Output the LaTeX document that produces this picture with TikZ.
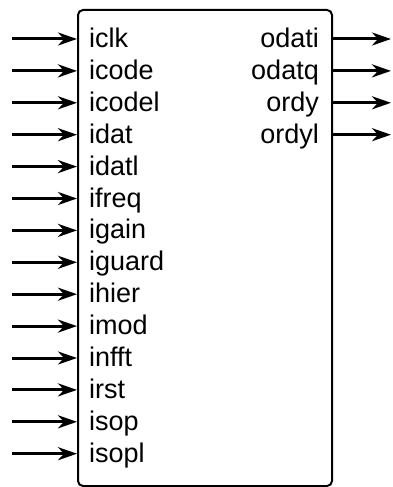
\documentclass[tikz,border=0pt]{standalone}
\usepackage{fontspec}
\setmainfont{Liberation Sans}
\usetikzlibrary{arrows.meta}
\begin{document}
\begin{tikzpicture}[x=1pt,y=-1pt,
  blk/.style={draw=black,line width=2pt,rounded corners=5pt},
  sig/.style={line width=3pt,-{Stealth[length=19pt,width=13pt,inset=6pt]}},
  lbl/.style={font=\fontsize{27}{32}\selectfont,inner sep=0pt}]
\useasboundingbox (0,0) rectangle (392,487);
\node[blk,minimum width=254pt,minimum height=476pt,anchor=north west,inner sep=0pt] (box) at (77,9) {};
\foreach \n [count=\i from 0] in {iclk,icode,icodel,idat,idatl,ifreq,igain,iguard,ihier,imod,infft,irst,isop,isopl}{
  \pgfmathsetmacro{\yy}{39+\i*31.9}
  \node[lbl,anchor=base west] (in\i) at (89,\yy+8.5) {\n};
  \coordinate (s\i) at (12,\yy);
  \coordinate (e\i) at (box.west |- 0,\yy);
  \draw[sig] (s\i) -- (e\i);
}
\foreach \n [count=\i from 0] in {odati,odatq,ordy,ordyl}{
  \pgfmathsetmacro{\yy}{39+\i*31.9}
  \node[lbl,anchor=base east] (out\i) at (319,\yy+8.5) {\n};
  \coordinate (b\i) at (box.east |- 0,\yy);
  \coordinate (t\i) at (391,\yy);
  \draw[sig] (b\i) -- (t\i);
}
\end{tikzpicture}
\end{document}
